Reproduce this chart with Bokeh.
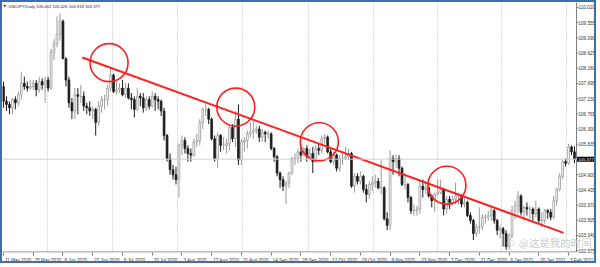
from bokeh.plotting import figure
from bokeh.models import (ColumnDataSource, FixedTicker, Span, Label,
                          Range1d, LinearAxis, Grid, NumeralTickFormatter,
                          CustomJSTickFormatter)
from bokeh.embed import file_html
from bokeh.resources import INLINE

# ---------------- data (USDJPY daily) ----------------
opens = [
    107.60, 107.15, 107.05, 106.95, 107.20, 107.10, 107.35, 107.70, 107.60, 107.55,
    107.60, 107.70, 107.50, 107.75, 107.65, 107.80, 107.55, 108.65, 108.90, 109.20,
    109.60, 108.45, 107.80, 107.10, 106.85, 107.35, 107.30, 107.30, 107.00, 106.95,
    106.85, 106.90, 106.50, 107.00, 107.20, 107.20, 107.55, 107.95, 107.45, 107.50,
    107.55, 107.35, 107.55, 107.25, 107.20, 106.90, 107.30, 107.25, 106.95, 107.20,
    107.00, 107.30, 107.20, 107.15, 106.85, 106.10, 105.40, 105.05, 104.90, 104.75,
    105.80, 105.95, 105.70, 105.55, 105.50, 105.90, 105.95, 106.50, 106.90, 106.90,
    106.60, 106.00, 105.40, 106.10, 105.80, 105.80, 105.85, 106.35, 106.00, 106.60,
    105.35, 105.90, 105.95, 106.15, 106.20, 106.25, 106.30, 106.05, 106.20, 106.15,
    106.15, 105.70, 105.45, 104.95, 104.75, 104.55, 104.65, 104.95, 105.40, 105.40,
    105.60, 105.50, 105.70, 105.45, 105.55, 105.30, 105.70, 105.65, 106.00, 106.05,
    105.60, 105.30, 105.50, 105.10, 105.40, 105.40, 105.45, 105.55, 104.55, 104.85,
    104.70, 104.85, 104.45, 104.30, 104.60, 104.65, 104.70, 104.50, 104.50, 103.55,
    103.35, 105.40, 105.30, 105.40, 105.10, 104.60, 104.60, 104.20, 103.80, 103.80,
    103.85, 104.55, 104.45, 104.50, 104.25, 104.10, 104.30, 104.35, 104.45, 103.85,
    104.15, 104.05, 104.15, 104.25, 104.25, 104.00, 104.05, 103.65, 103.50, 103.10,
    103.30, 103.30, 103.60, 103.60, 103.65, 103.80, 103.50, 103.20, 103.25, 103.10,
    102.70, 103.05, 103.80, 103.95, 104.25, 103.75, 103.90, 103.85, 103.85, 103.70,
    103.85, 103.50, 103.50, 103.80, 103.75, 103.60, 104.10, 104.45, 104.85, 105.30,
    105.25, 105.75, 105.60,
]
highs = [
    107.75, 107.30, 107.15, 107.25, 107.30, 107.45, 108.05, 107.90, 107.75, 107.80,
    107.80, 107.80, 107.90, 107.85, 107.90, 107.90, 108.75, 109.05, 109.75, 109.85,
    109.65, 108.50, 107.90, 107.25, 107.55, 107.55, 107.65, 107.45, 107.10, 107.15,
    107.00, 106.95, 107.15, 107.30, 107.35, 107.65, 108.15, 108.00, 107.75, 107.70,
    107.80, 107.70, 107.70, 107.40, 107.30, 107.55, 107.40, 107.40, 107.30, 107.30,
    107.45, 107.40, 107.30, 107.20, 106.95, 106.15, 105.55, 105.20, 105.15, 105.85,
    106.10, 106.05, 105.80, 105.70, 106.00, 106.15, 106.60, 106.95, 107.05, 106.95,
    106.65, 106.10, 106.20, 106.15, 106.05, 106.00, 106.45, 106.45, 106.85, 107.05,
    106.00, 106.05, 106.25, 106.50, 106.55, 106.40, 106.40, 106.30, 106.25, 106.25,
    106.20, 105.75, 105.50, 105.00, 104.85, 104.70, 105.00, 105.45, 105.55, 105.70,
    105.75, 105.75, 105.80, 105.70, 105.75, 105.80, 105.85, 106.10, 106.15, 106.10,
    105.70, 105.60, 105.55, 105.50, 105.60, 105.75, 105.70, 105.60, 104.95, 104.95,
    105.00, 104.90, 104.60, 104.70, 104.85, 104.90, 104.80, 105.35, 104.55, 103.75,
    105.65, 105.50, 105.50, 105.50, 105.15, 104.95, 104.65, 104.25, 104.00, 103.95,
    104.75, 104.75, 104.70, 104.55, 104.30, 104.35, 104.75, 104.75, 104.50, 104.25,
    104.25, 104.25, 104.65, 104.35, 104.30, 104.20, 104.10, 103.75, 103.55, 103.40,
    103.90, 103.70, 103.70, 103.80, 103.90, 103.85, 103.55, 103.35, 103.30, 103.20,
    103.10, 103.95, 104.10, 104.40, 104.30, 103.95, 104.05, 103.95, 103.90, 104.10,
    103.90, 103.75, 103.85, 103.85, 103.85, 104.25, 104.50, 104.95, 105.35, 105.40,
    105.85, 105.80, 105.77,
]
lows = [
    106.95, 106.85, 106.75, 106.75, 106.90, 107.00, 107.20, 107.50, 107.45, 107.50,
    107.50, 107.30, 107.40, 107.50, 107.10, 107.45, 107.50, 108.40, 108.80, 109.00,
    108.45, 107.60, 106.95, 106.60, 106.60, 106.75, 107.10, 106.85, 106.75, 106.70,
    106.60, 106.10, 106.40, 106.80, 106.90, 107.00, 107.45, 107.40, 107.35, 107.40,
    107.30, 107.25, 107.20, 106.90, 106.65, 106.85, 107.00, 106.80, 106.85, 106.90,
    106.95, 106.85, 106.90, 106.70, 105.95, 105.30, 104.90, 104.75, 104.60, 104.20,
    105.50, 105.55, 105.30, 105.30, 105.45, 105.75, 105.80, 106.30, 106.70, 106.45,
    105.95, 105.30, 105.10, 105.60, 105.65, 105.55, 105.65, 105.90, 105.75, 105.20,
    105.20, 105.60, 105.70, 106.05, 106.00, 106.15, 105.90, 105.90, 105.90, 106.00,
    105.65, 105.30, 104.85, 104.50, 104.40, 104.00, 104.50, 104.90, 105.20, 105.25,
    105.30, 105.45, 105.30, 105.35, 104.95, 105.25, 105.50, 105.55, 105.85, 105.55,
    105.25, 105.20, 105.00, 105.00, 105.20, 105.35, 105.35, 104.50, 104.35, 104.60,
    104.60, 104.35, 104.05, 104.15, 104.40, 104.50, 104.45, 104.30, 103.50, 103.20,
    103.20, 104.90, 105.10, 104.85, 104.55, 104.45, 104.05, 103.70, 103.65, 103.65,
    103.70, 104.20, 104.30, 104.20, 103.90, 103.75, 104.25, 104.30, 103.65, 103.70,
    103.85, 103.95, 104.00, 104.00, 103.90, 103.90, 103.60, 103.40, 102.90, 103.00,
    103.10, 103.20, 103.40, 103.50, 103.50, 103.40, 103.05, 102.95, 102.70, 102.60,
    102.60, 102.95, 103.55, 103.70, 103.65, 103.50, 103.65, 103.55, 103.50, 103.60,
    103.40, 103.30, 103.40, 103.55, 103.50, 103.55, 103.95, 104.40, 104.75, 105.15,
    105.20, 105.50, 105.25,
]
closes = [
    107.15, 107.05, 106.95, 107.20, 107.10, 107.35, 107.70, 107.60, 107.55, 107.60,
    107.70, 107.50, 107.75, 107.65, 107.80, 107.55, 108.65, 108.90, 109.20, 109.60,
    108.45, 107.80, 107.10, 106.85, 107.35, 107.30, 107.30, 107.00, 106.95, 106.85,
    106.90, 106.50, 107.00, 107.20, 107.20, 107.55, 107.95, 107.45, 107.50, 107.55,
    107.35, 107.55, 107.25, 107.20, 106.90, 107.30, 107.25, 106.95, 107.20, 107.00,
    107.30, 107.20, 107.15, 106.85, 106.10, 105.40, 105.05, 104.90, 104.75, 105.80,
    105.95, 105.70, 105.55, 105.50, 105.90, 105.95, 106.50, 106.90, 106.90, 106.60,
    106.00, 105.40, 106.10, 105.80, 105.80, 105.85, 106.35, 106.00, 106.60, 105.35,
    105.90, 105.95, 106.15, 106.20, 106.25, 106.30, 106.05, 106.20, 106.15, 106.15,
    105.70, 105.45, 104.95, 104.75, 104.55, 104.65, 104.95, 105.40, 105.40, 105.60,
    105.50, 105.70, 105.45, 105.55, 105.30, 105.70, 105.65, 106.00, 106.05, 105.60,
    105.30, 105.50, 105.10, 105.40, 105.40, 105.45, 105.55, 104.55, 104.85, 104.70,
    104.85, 104.45, 104.30, 104.60, 104.65, 104.70, 104.50, 104.50, 103.55, 103.35,
    105.40, 105.30, 105.40, 105.10, 104.60, 104.60, 104.20, 103.80, 103.80, 103.85,
    104.55, 104.45, 104.50, 104.25, 104.10, 104.30, 104.35, 104.45, 103.85, 104.15,
    104.05, 104.15, 104.25, 104.25, 104.00, 104.05, 103.65, 103.50, 103.10, 103.30,
    103.30, 103.60, 103.60, 103.65, 103.80, 103.50, 103.20, 103.25, 103.10, 102.70,
    103.05, 103.80, 103.95, 104.25, 103.75, 103.90, 103.85, 103.85, 103.70, 103.85,
    103.50, 103.50, 103.80, 103.75, 103.60, 104.10, 104.45, 104.85, 105.30, 105.25,
    105.75, 105.60, 105.377,
]

date_labels = ["11 May 2020", "25 May 2020", "8 Jun 2020", "22 Jun 2020", "6 Jul 2020",
               "20 Jul 2020", "3 Aug 2020", "17 Aug 2020", "31 Aug 2020", "14 Sep 2020",
               "28 Sep 2020", "12 Oct 2020", "26 Oct 2020", "9 Nov 2020", "23 Nov 2020",
               "7 Dec 2020", "21 Dec 2020", "6 Jan 2021", "20 Jan 2021", "3 Feb 2021"]
date_bars = [0, 10, 20, 30, 40, 50, 60, 70, 80, 90, 100, 110, 120, 130, 140, 150, 160,
             170, 180, 190]

price_ticks = [110.020, 109.555, 109.090, 108.625, 108.160, 107.695, 107.230, 106.765,
               106.300, 105.835, 104.900, 104.435, 103.970, 103.505, 103.040, 102.575]
last_price = 105.377
title_text = "USDJPY,Daily  105.002 105.426 104.918 105.377"
watermark = "@这是我的时间"

trend_bar = [26.5, 188.3]
trend_price = [108.49, 103.12]
circle_bar = [35.5, 78.1, 106.2, 149.1]
circle_price = [108.33, 106.97, 105.91, 104.58]

grid_bars = [14.7, 36.5, 58.6, 80.4, 102.5, 124.3, 145.8, 167.6, 189.3]

# ---------------- geometry ----------------
# the frame covers the whole canvas width; the price scale strip (20 px) lives
# inside the frame at its right so that the last-price box can sit on it.
W, H = 596, 263
FRAME_W, FRAME_H = 596, 253
BARS_W = 576                 # width of the candle area
PPB = 2.984                  # pixels per bar
PPY = 33.06                  # pixels per yen
x0 = -1.0 / PPB
x1 = x0 + FRAME_W / PPB
xr = x0 + BARS_W / PPB       # right edge of the candle area (price scale line)
y1 = 110.172
y0 = y1 - FRAME_H / PPY

def px_x(px):   # canvas-content pixel -> bar coordinate
    return x0 + px / PPB
def px_y(py):   # canvas-content pixel (from top) -> price
    return y1 - py / PPY

AX = "#7a7a7a"
FONT = "Liberation Sans"
AXFS = 4.6

# approximate Arial/Liberation advance widths (em) -> used to left-align date labels
_W = {" ": 0.278, "M": 0.833, "J": 0.5, "A": 0.667, "S": 0.667, "O": 0.778, "N": 0.722,
      "D": 0.722, "F": 0.611, "a": 0.556, "y": 0.5, "u": 0.556, "n": 0.556, "e": 0.556,
      "p": 0.556, "c": 0.5, "t": 0.278, "o": 0.556, "v": 0.5, "g": 0.556, "l": 0.222,
      "i": 0.222, "b": 0.556}
def text_px(s, fs):
    return sum(_W.get(ch, 0.556) for ch in s) * fs

label_pos = [b + (1.5 + text_px(s, AXFS) / 2.0) / PPB for b, s in zip(date_bars, date_labels)]

n = len(closes)
bars = list(range(n))
hi = [max(highs[i], opens[i], closes[i]) for i in bars]
lo = [min(lows[i], opens[i], closes[i]) for i in bars]

def subset(cond):
    ids = [i for i in bars if cond(i)]
    return ColumnDataSource(dict(
        x=ids,
        h=[hi[i] for i in ids], l=[lo[i] for i in ids],
        top=[max(opens[i], closes[i]) for i in ids],
        bot=[min(opens[i], closes[i]) for i in ids]))

bull_src = subset(lambda i: closes[i] >= opens[i])
bear_src = subset(lambda i: closes[i] < opens[i])

p = figure(width=W, height=H, x_range=Range1d(x0, x1), y_range=Range1d(y0, y1),
           output_backend="svg", toolbar_location=None,
           x_axis_location=None, y_axis_location=None,
           min_border_left=0, min_border_top=0, min_border_right=0, min_border_bottom=10)
p.styles = {"border": "2px solid #3f6fa8"}
p.outline_line_color = None
p.background_fill_color = "white"
p.border_fill_color = "white"
p.grid.visible = False

# price scale: axis sits on the frame edge, labels pulled back into the strip
yax = LinearAxis(ticker=FixedTicker(ticks=price_ticks),
                 formatter=NumeralTickFormatter(format="0.000"),
                 axis_line_color=None, major_tick_line_color=None,
                 major_tick_out=0, major_tick_in=0, minor_tick_line_color=None,
                 major_label_standoff=-(FRAME_W - BARS_W - 2),
                 major_label_text_font_size=f"{AXFS}px",
                 major_label_text_font=FONT, major_label_text_color="#333333")
p.add_layout(yax, "right")

xfmt = CustomJSTickFormatter(args=dict(pos=label_pos, labels=date_labels), code="""
    for (let i = 0; i < pos.length; i++) {
        if (Math.abs(pos[i] - tick) < 1e-6) { return labels[i]; }
    }
    return "";
""")
xax = LinearAxis(ticker=FixedTicker(ticks=label_pos, minor_ticks=date_bars),
                 formatter=xfmt,
                 axis_line_color=None, major_tick_line_color=None,
                 major_tick_out=0, major_tick_in=0,
                 minor_tick_line_color=AX, minor_tick_out=3, minor_tick_in=0,
                 major_label_standoff=2, major_label_text_font_size=f"{AXFS}px",
                 major_label_text_font=FONT, major_label_text_color="#333333")
p.add_layout(xax, "below")

vgrid = Grid(dimension=0, ticker=FixedTicker(ticks=grid_bars),
             grid_line_color="#b8b8b8", grid_line_dash="1 2", grid_line_width=1)
p.add_layout(vgrid)

p.add_layout(Span(location=last_price, dimension="width",
                  line_color="#cfcfcf", line_width=1))

# scale lines (bottom time-scale line and right price-scale line) + price ticks
p.line([x0, xr], [px_y(FRAME_H - 0.5)] * 2, line_color=AX, line_width=1)
p.line([xr, xr], [y0, y1], line_color=AX, line_width=1)
p.segment(x0=[xr] * len(price_ticks), y0=price_ticks,
          x1=[xr + 2.0 / PPB] * len(price_ticks), y1=price_ticks,
          line_color=AX, line_width=1)

# candles
BULL = "#9a9a9a"
BEAR = "#1e1e1e"
p.segment(x0="x", y0="l", x1="x", y1="h", source=bull_src, line_color=BULL, line_width=1)
p.vbar(x="x", width=0.6, top="top", bottom="bot", source=bull_src,
       fill_color="white", line_color=BULL, line_width=0.8)
p.segment(x0="x", y0="l", x1="x", y1="h", source=bear_src, line_color=BEAR, line_width=1)
p.vbar(x="x", width=0.6, top="top", bottom="bot", source=bear_src,
       fill_color=BEAR, line_color=BEAR, line_width=0.8)

# trend line + circles
RED = "#ff1f1f"
p.line(trend_bar, trend_price, line_color=RED, line_width=2)
p.scatter(circle_bar, circle_price, marker="circle", size=38, fill_color=None,
          line_color=RED, line_width=1.6)

# last price box on the price scale
p.add_layout(Label(x=xr + 0.6 / PPB, y=last_price, text=f"{last_price:.3f}",
                   text_align="left", text_baseline="middle",
                   text_font_size="4.3px", text_font=FONT, text_color="white",
                   background_fill_color="black", padding=1))

# title
p.add_layout(Label(x=px_x(1), y=px_y(2), text="\u25bc",
                   text_align="left", text_baseline="top",
                   text_font_size="3px", text_font="DejaVu Sans", text_color="#222222"))
p.add_layout(Label(x=px_x(6), y=px_y(1.5), text=title_text,
                   text_align="left", text_baseline="top",
                   text_font_size="4.2px", text_font=FONT, text_color="#222222"))

# watermark
p.add_layout(Label(x=px_x(505), y=px_y(243), text="\u25cc",
                   text_align="left", text_baseline="middle",
                   text_font_size="10px", text_font="DejaVu Sans", text_color="#b8b8b8"))
p.add_layout(Label(x=px_x(518), y=px_y(243), text=watermark,
                   text_align="left", text_baseline="middle",
                   text_font_size="10.5px", text_font="Noto Sans CJK SC",
                   text_color="#cccccc"))

open("out.html", "w").write(file_html(p, INLINE))
